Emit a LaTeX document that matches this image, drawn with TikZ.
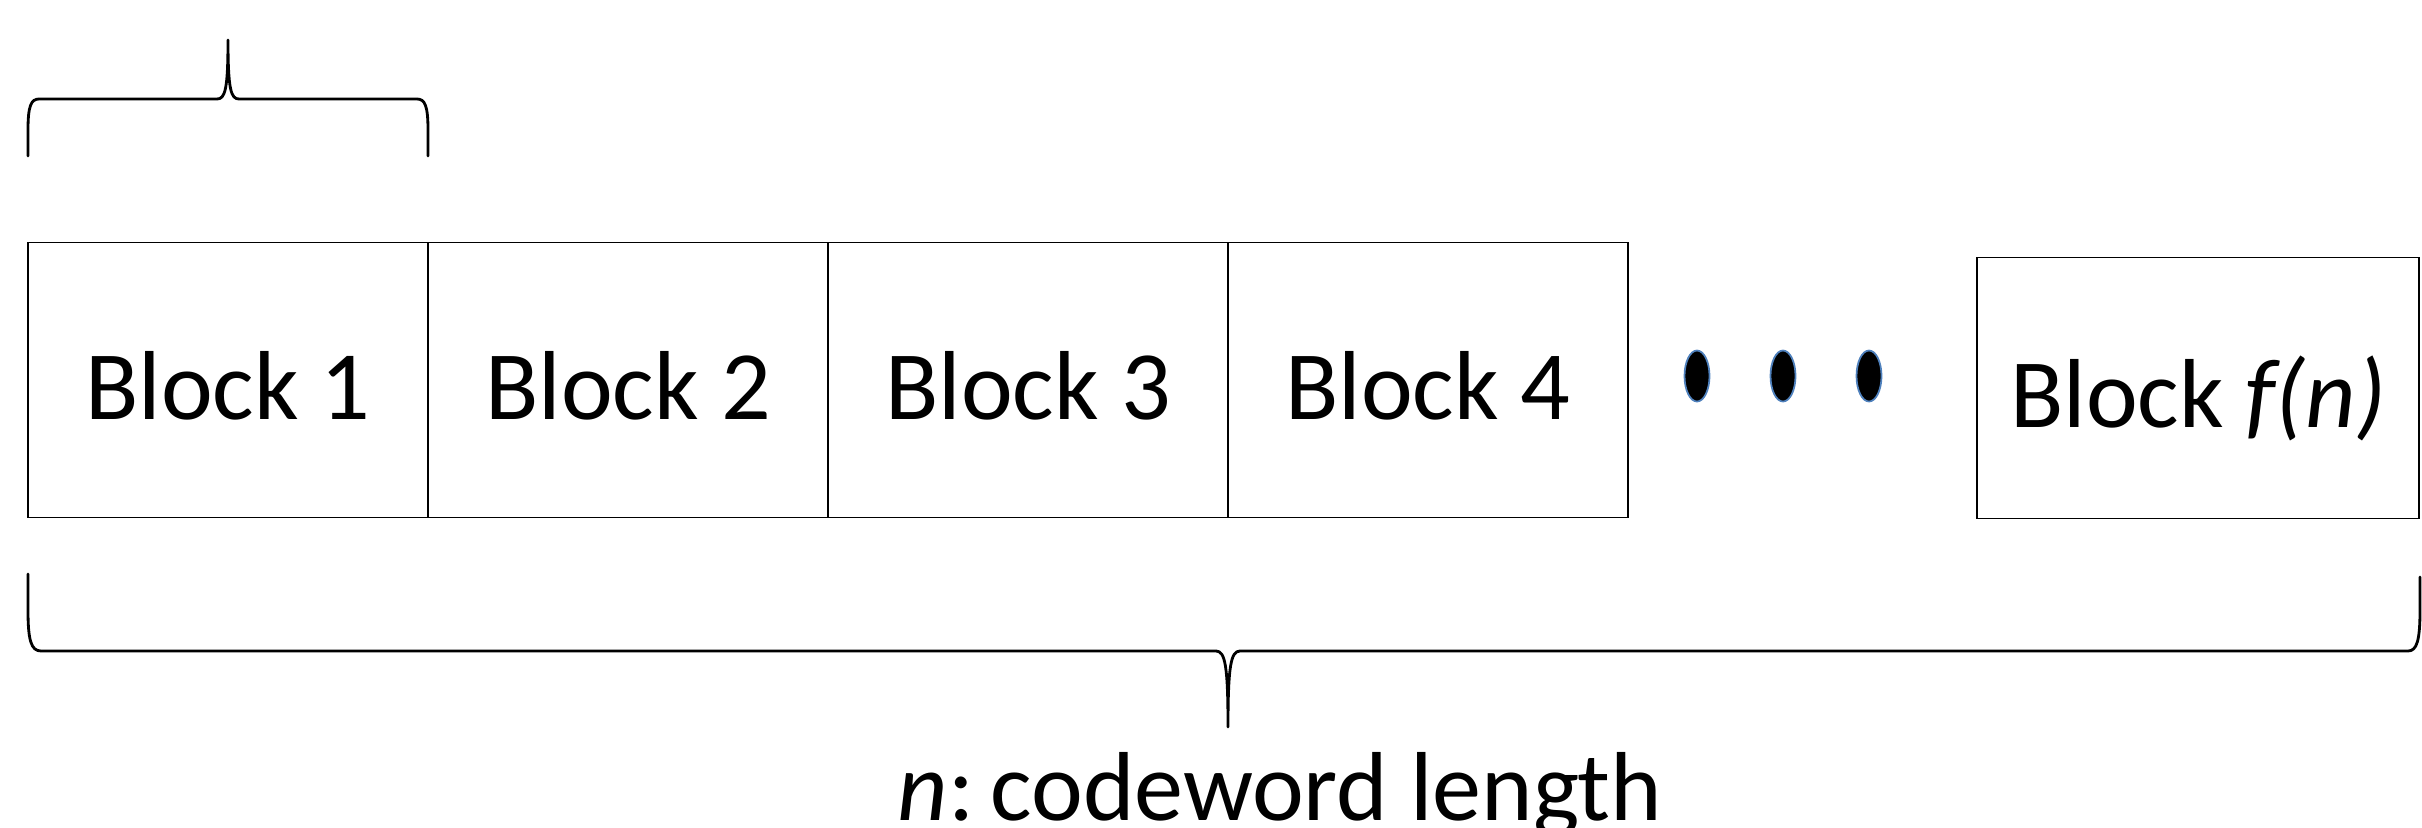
\documentclass[tikz,border=0pt]{standalone}
\usepackage{fontspec}
\setmainfont{Carlito}
\usetikzlibrary{positioning,shapes.geometric}
\definecolor{dotblue}{RGB}{79,129,189}

\begin{document}
\begin{tikzpicture}[x=0.1mm, y=-0.1mm,
            blockbox/.style = {draw, line width=0.5pt, inner sep=0pt, outer sep=0pt, minimum width=40mm, minimum height=27.5mm, font=\fontsize{27.9}{33}\selectfont, text height=22.3pt, text depth=0pt},
            lastbox/.style = {blockbox, minimum width=44.2mm, minimum height=26.1mm},
            gapdot/.style = {ellipse, fill=black, draw=dotblue, line width=0.5pt, inner sep=0pt, minimum width=2.5mm, minimum height=5.1mm},
            bracket/.style = {line width=0.8pt, line cap=round, line join=round},
            lengthlabel/.style = {font=\fontsize{27.9}{33}\selectfont, anchor=base}]
            \useasboundingbox (0,0) rectangle (2422,827);

            % Blocks
            \node[blockbox] (b1) at (228,380) {Block 1};
            \node[blockbox, right=0pt of b1] (b2) {Block 2};
            \node[blockbox, right=0pt of b2] (b3) {Block 3};
            \node[blockbox, right=0pt of b3] (b4) {Block 4};
            \node[lastbox] (bf) at (2198,388) {Block \textit{f(n)}};

            % Dots
            \foreach \x [count=\i] in {1697,1783,1869}
                \node[gapdot] (dot\i) at (\x,376) {};

            % Braces
            \draw[bracket] (28,156) -- (28,130) .. controls (28,106) and (31,99) .. (39,99) -- (217,99)
                .. controls (225,99) and (228,90) .. (228,40) .. controls (228,90) and (231,99) .. (239,99)
                -- (417,99) .. controls (425,99) and (428,106) .. (428,130) -- (428,156);
            \draw[bracket] (28,574) -- (28,610) .. controls (28,640) and (31,651) .. (41,651) -- (1216,651)
                .. controls (1225,651) and (1228,665) .. (1228,727) .. controls (1228,665) and (1231,651) .. (1240,651)
                -- (2408,651) .. controls (2417,651) and (2420,640) .. (2420,610) -- (2420,577);

            % Label
            \node[lengthlabel] (len) at (1280,820) {\textit{n}:\,codeword length};
        \end{tikzpicture}
\end{document}
